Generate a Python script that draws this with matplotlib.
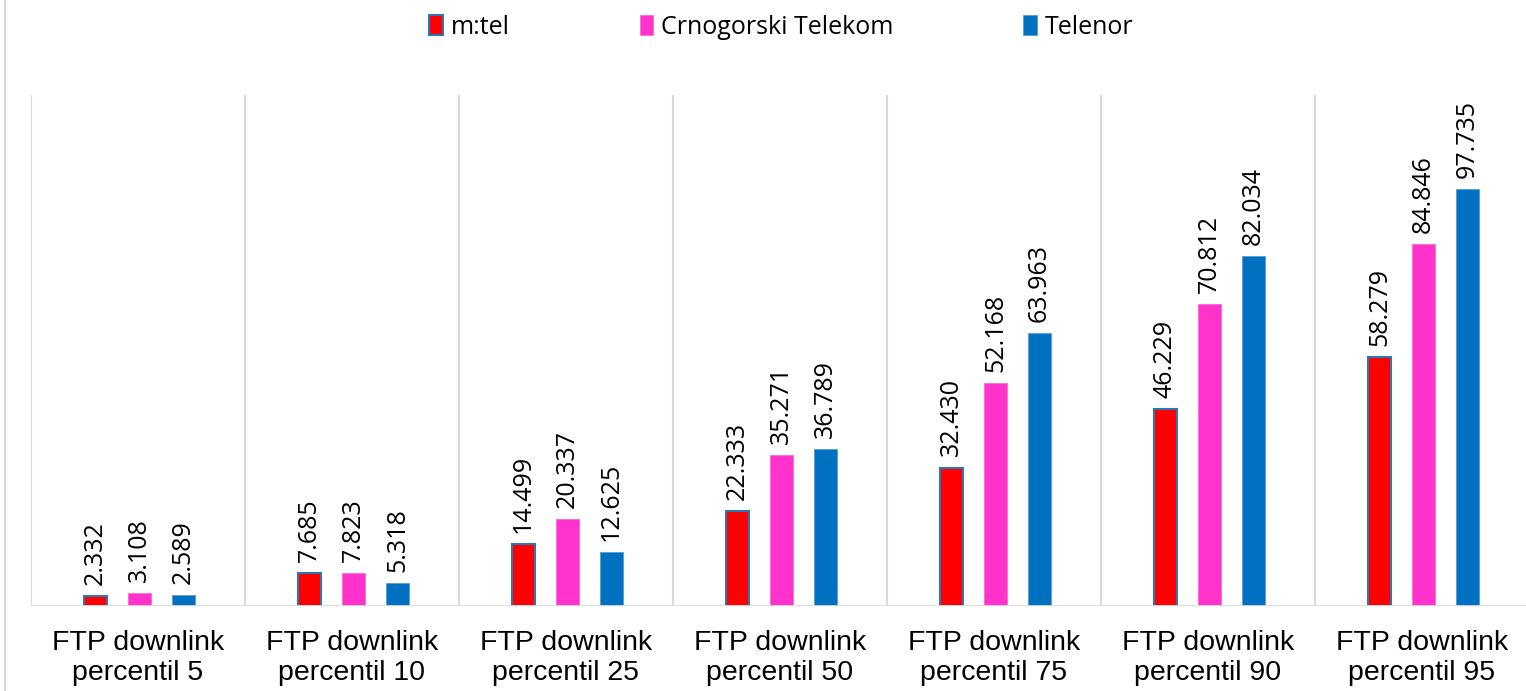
import matplotlib.pyplot as plt
import matplotlib.lines as mlines
import numpy as np

categories = ['FTP downlink\npercentil 5', 'FTP downlink\npercentil 10',
              'FTP downlink\npercentil 25', 'FTP downlink\npercentil 50',
              'FTP downlink\npercentil 75', 'FTP downlink\npercentil 90',
              'FTP downlink\npercentil 95']
mtel = [2.332, 7.685, 14.499, 22.333, 32.430, 46.229, 58.279]
crnogorski = [3.108, 7.823, 20.337, 35.271, 52.168, 70.812, 84.846]
telenor = [2.589, 5.318, 12.625, 36.789, 63.963, 82.034, 97.735]

series_names = ['m:tel', 'Crnogorski Telekom', 'Telenor']
colors = ['#ff0000', '#ff33cc', '#0070c0']
edges = ['#2e75b6', '#ff66dd', '#5b9bd5']

fig = plt.figure(figsize=(15.26, 6.91), dpi=100)
ax = fig.add_axes([31 / 1526, 1 - 606 / 691, 7 * 214 / 1526, (606 - 95) / 691])

x = np.arange(len(categories))
width = 0.107
step = 0.206
for i, (vals, name) in enumerate(zip([mtel, crnogorski, telenor], series_names)):
    pos = x + (i - 1) * step + 0.007
    lw = 1.5 if i == 0 else 0.6
    ax.bar(pos, vals, width, color=colors[i], edgecolor=edges[i], linewidth=lw,
           label=name, zorder=3)
    for px, v in zip(pos, vals):
        ax.text(px, v + 2.6, f'{v:.3f}', rotation=90, ha='center', va='bottom',
                fontsize=18, family='Open Sans', color='black')

ax.set_xlim(-0.5, 6.5)
ax.set_ylim(0, 119.7)
for b in np.arange(-0.5, 7.0, 1.0):
    ax.axvline(b, color='#d9d9d9', lw=1.5, zorder=1)
ax.axhline(0, color='#d9d9d9', lw=2, zorder=4)

ax.set_yticks([])
ax.set_xticks(x)
ax.set_xticklabels(categories, fontsize=20.5, family='Liberation Sans', linespacing=1.2)
ax.tick_params(axis='x', length=0, pad=17)
for s in ax.spines.values():
    s.set_visible(False)

fig.legend(loc='upper center', bbox_to_anchor=(0.512, 1.0), ncol=3, frameon=False,
           prop={'family': 'Open Sans', 'size': 18}, handlelength=0.55, handleheight=0.85,
           handletextpad=0.3, columnspacing=5.2, borderaxespad=0.2)

fig.add_artist(mlines.Line2D([5 / 1526, 5 / 1526], [0, 1], color='#d9d9d9', lw=1.5))

fig.savefig('out.png', dpi=100)
